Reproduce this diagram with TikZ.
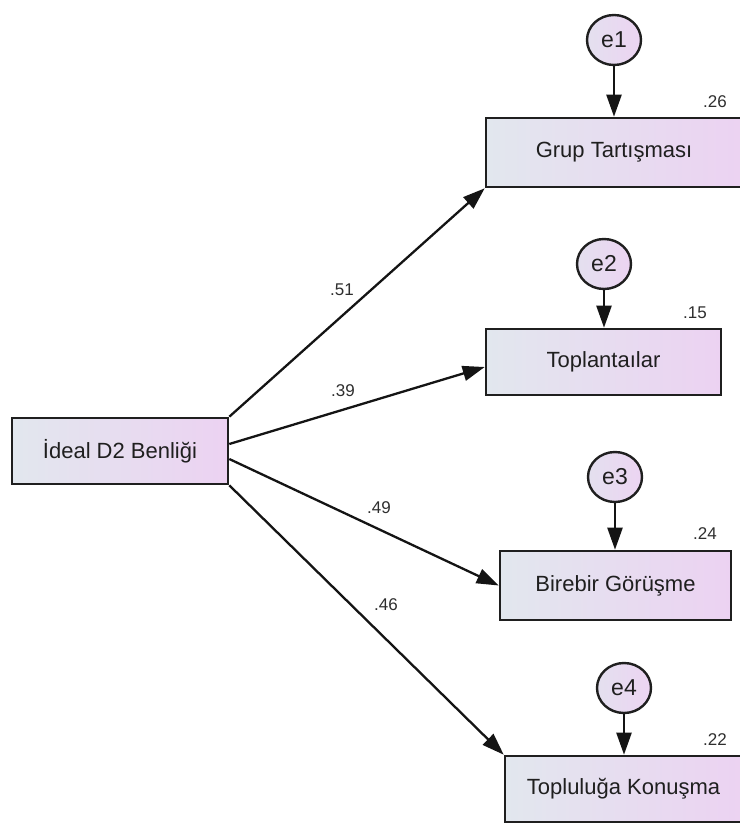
\documentclass[tikz,border=0pt]{standalone}
\usepackage{fontspec}
\setmainfont{Liberation Sans}
\usetikzlibrary{arrows.meta,shapes.geometric}
\definecolor{boxL}{HTML}{E2E7EE}
\definecolor{boxR}{HTML}{ECD2F2}
\definecolor{cirL}{HTML}{E4E0EF}
\definecolor{cirR}{HTML}{ECD4F2}
\tikzset{
  obs/.style={draw=black!88, line width=2.6pt, left color=boxL, right color=boxR,
    rectangle, inner sep=0pt, font=\fontsize{22}{26}\selectfont, text=black!88},
  err/.style={draw=black!88, line width=2.4pt, left color=cirL, right color=cirR,
    ellipse, inner sep=0pt, minimum width=54pt, minimum height=50pt,
    font=\fontsize{23}{27}\selectfont, text=black!88},
  arr/.style={line width=2.3pt, draw=black!92, -{Triangle[length=22pt,width=15pt]}},
  coef/.style={font=\fontsize{17}{20}\selectfont, text=black!82, inner sep=0pt}
}
\begin{document}
\begin{tikzpicture}[x=1pt,y=-1pt]
\useasboundingbox (0,0) rectangle (739,824);
% observed variables
\node[obs, minimum width=216pt, minimum height=66pt] (ideal) at (120,451) {İdeal D2 Benliği};
\node[obs, minimum width=260pt, minimum height=69pt] (grup) at (616,152.5) {\hspace*{-4pt}Grup Tartışması};
\node[obs, minimum width=235pt, minimum height=66pt] (topl) at (603.5,362) {Toplantaılar};
\node[obs, minimum width=231pt, minimum height=69pt] (bire) at (615.5,585.5) {Birebir Görüşme};
\node[obs, minimum width=241pt, minimum height=66pt] (toplu) at (625.5,789) {\hspace*{-4pt}Topluluğa Konuşma};
% error terms
\node[err] (e1) at (614,40) {e1};
\node[err] (e2) at (604,264) {e2};
\node[err] (e3) at (615,477) {e3};
\node[err] (e4) at (624,688) {e4};
% paths
\draw[arr] (ideal.north east) -- (grup.south west);
\draw[arr] ([yshift=7pt]ideal.east) -- ([yshift=-5pt]topl.west);
\draw[arr] ([yshift=-8pt]ideal.east) -- (bire.west);
\draw[arr] (ideal.south east) -- (toplu.north west);
\draw[arr] (e1) -- (e1 |- grup.north);
\draw[arr] (e2) -- (e2 |- topl.north);
\draw[arr] (e3) -- (e3 |- bire.north);
\draw[arr] (e4) -- (e4 |- toplu.north);
% coefficients
\node[coef] (c1) at (342,290) {.51};
\node[coef] (c2) at (343,391) {.39};
\node[coef] (c3) at (379,508) {.49};
\node[coef] (c4) at (386,605) {.46};
\node[coef] (r1) at (715,102) {.26};
\node[coef] (r2) at (695,313) {.15};
\node[coef] (r3) at (705,534) {.24};
\node[coef] (r4) at (715,740) {.22};
\end{tikzpicture}
\end{document}
